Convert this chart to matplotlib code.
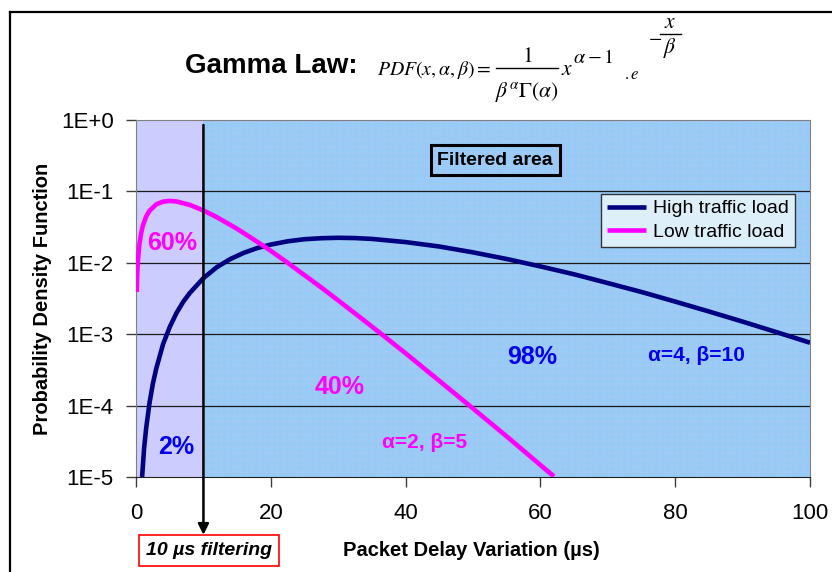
import matplotlib
matplotlib.use("Agg")
import matplotlib.pyplot as plt
from matplotlib.lines import Line2D

# values (log scale)
high_x = [0.9, 1.2, 1.5, 2, 2.5, 3, 4, 5, 6, 7, 8, 10, 12, 14, 16, 18, 20, 22.5, 25, 27.5,
          30, 32.5, 35, 40, 45, 50, 55, 60, 65, 70, 75, 80, 85, 90, 95, 100]
high_y = [1.0e-5, 2.55e-5, 4.8e-5, 1.09e-4, 2.03e-4, 3.3e-4, 7.2e-4, 1.26e-3, 1.98e-3, 2.84e-3,
          3.8e-3, 6.1e-3, 8.7e-3, 1.13e-2, 1.38e-2, 1.61e-2, 1.80e-2, 2.00e-2, 2.14e-2, 2.21e-2,
          2.24e-2, 2.22e-2, 2.16e-2, 1.95e-2, 1.69e-2, 1.40e-2, 1.13e-2, 8.9e-3, 6.9e-3, 5.2e-3,
          3.9e-3, 2.86e-3, 2.08e-3, 1.50e-3, 1.07e-3, 7.6e-4]
low_x = [0.1, 0.15, 0.2, 0.3, 0.5, 0.75, 1, 1.5, 2, 3, 4, 5, 6, 8, 10, 12, 15, 17.5, 20, 22.5,
         25, 27.5, 30, 35, 40, 45, 50, 55, 60, 62]
low_y = [3.9e-3, 5.8e-3, 7.7e-3, 1.13e-2, 1.81e-2, 2.58e-2, 3.28e-2, 4.45e-2, 5.36e-2, 6.59e-2,
         7.19e-2, 7.36e-2, 7.23e-2, 6.46e-2, 5.41e-2, 4.35e-2, 2.99e-2, 2.11e-2, 1.47e-2, 1.0e-2,
         6.7e-3, 4.5e-3, 2.97e-3, 1.28e-3, 5.4e-4, 2.22e-4, 9.1e-5, 3.7e-5, 1.47e-5, 1.02e-5]
series_names = ["High traffic load", "Low traffic load"]
y_ticks = [1, 1e-1, 1e-2, 1e-3, 1e-4, 1e-5]
y_labels = ["1E+0", "1E-1", "1E-2", "1E-3", "1E-4", "1E-5"]
x_ticks = [0, 20, 40, 60, 80, 100]
filter_x = 10

navy = "#000080"
magenta = "#FF00FF"
blue = "#0000EE"

plt.rcParams["font.family"] = ["Liberation Sans", "DejaVu Sans"]
plt.rcParams["mathtext.fontset"] = "stix"
plt.rcParams["hatch.linewidth"] = 0.3

W, H = 832, 572

fig = plt.figure(figsize=(8.32, 5.72), dpi=100)
ax = fig.add_axes([0.1635, 0.1661, 0.8101, 0.6241])

# background areas
ax.axvspan(0, filter_x, facecolor="#CCCCFF", linewidth=0, zorder=0)
ax.axvspan(filter_x, 100, facecolor="#B8C6F6", edgecolor=(0.45, 0.82, 0.96, 0.6),
           hatch="+" * 14, linewidth=0, zorder=0)
for yt in y_ticks[1:-1]:
    ax.axhline(yt, color="#1a1a1a", linewidth=0.9, zorder=1)

ax.plot(high_x, high_y, color=navy, linewidth=3.3, label=series_names[0], zorder=3,
        solid_capstyle="butt", solid_joinstyle="round")
ax.plot(low_x, low_y, color=magenta, linewidth=3.3, label=series_names[1], zorder=3,
        solid_capstyle="butt", solid_joinstyle="round")

ax.set_yscale("log")
ax.set_xlim(0, 100)
ax.set_ylim(1e-5, 1)
ax.set_yticks(y_ticks)
ax.set_yticklabels(y_labels)
ax.minorticks_off()
ax.set_xticks(x_ticks)
ax.tick_params(axis="both", labelsize=16, length=7, width=1, color="#404040")
ax.tick_params(axis="x", pad=12)
ax.tick_params(axis="y", pad=9)
for s in ["left", "top", "right"]:
    ax.spines[s].set_color("#808080")
ax.spines["bottom"].set_color("#202020")

ax.set_xlabel("Packet Delay Variation (\u00b5s)", fontsize=14.5, fontweight="bold")
ax.xaxis.set_label_coords(0.498, -0.178)
ax.set_ylabel("Probability Density Function", fontsize=14.5, fontweight="bold")
ax.yaxis.set_label_coords(-0.125, 0.5)

# filter line with arrow down to the label box
tr = ax.get_xaxis_transform()
ax.annotate("", xy=(filter_x, -0.162), xytext=(filter_x, 0.986), xycoords=tr, textcoords=tr,
            arrowprops=dict(arrowstyle="-|>", color="black", lw=1.8, mutation_scale=16,
                            shrinkA=0, shrinkB=0), annotation_clip=False, zorder=4)
ax.text(10.85, -0.207, "10 \u00b5s filtering", transform=tr, ha="center", va="center",
        fontsize=14, fontweight="bold", fontstyle="italic",
        bbox=dict(boxstyle="square,pad=0.36", facecolor="white", edgecolor="red", lw=1.2))

ax.text(53.3, 0.275, "Filtered area", ha="center", va="center", fontsize=14, fontweight="bold",
        bbox=dict(boxstyle="square,pad=0.35", facecolor="none", edgecolor="black", lw=2.2),
        zorder=5)

ax.text(5.4, 0.019, "60%", color=magenta, fontsize=18, fontweight="bold", ha="center", va="center", zorder=5)
ax.text(5.9, 2.6e-5, "2%", color=blue, fontsize=18, fontweight="bold", ha="center", va="center", zorder=5)
ax.text(30.2, 1.82e-4, "40%", color=magenta, fontsize=18, fontweight="bold", ha="center", va="center", zorder=5)
ax.text(58.8, 4.8e-4, "98%", color=blue, fontsize=18, fontweight="bold", ha="center", va="center", zorder=5)
ax.text(83.2, 5.1e-4, "\u03b1=4, \u03b2=10", color=blue, fontsize=15, fontweight="bold", ha="center", va="center", zorder=5)
ax.text(42.8, 3.0e-5, "\u03b1=2, \u03b2=5", color=magenta, fontsize=15, fontweight="bold", ha="center", va="center", zorder=5)

leg = ax.legend(loc="upper right", bbox_to_anchor=(0.978, 0.793), fontsize=14, frameon=True,
                fancybox=False, handlelength=2.0, borderpad=0.3, labelspacing=0.3,
                handletextpad=0.4, borderaxespad=0)
leg.get_frame().set_facecolor("#DDF0FA")
leg.get_frame().set_edgecolor("#333333")
leg.get_frame().set_linewidth(1)
leg.get_frame().set_alpha(1)
leg.set_zorder(6)


def ftext(px, py, s, **kw):
    # place text by pixel position of the reference picture
    fig.text(px / W, 1 - py / H, s, **kw)


def fbar(x0, x1, py, lw=1.0):
    fig.add_artist(Line2D([x0 / W, x1 / W], [1 - py / H, 1 - py / H], color="black", lw=lw,
                          transform=fig.transFigure))


# title with formula
ftext(185, 66, "Gamma Law:", fontsize=20, fontweight="bold", ha="left", va="center")
ftext(377, 75, r"$PDF(x,\alpha,\beta)=$", fontsize=14.2, ha="left", va="baseline")
ftext(527, 62, r"$1$", fontsize=15.5, ha="center", va="baseline")
fbar(496, 558, 68)
ftext(527, 97, r"$\beta^{\alpha}\Gamma(\alpha)$", fontsize=15.5, ha="center", va="baseline")
ftext(561, 75, r"$x$", fontsize=15.5, ha="left", va="baseline")
ftext(573, 63, r"$\alpha - 1$", fontsize=14.5, ha="left", va="baseline")
ftext(624, 79, r"$.e$", fontsize=12, ha="left", va="baseline")
ftext(648, 38, r"$-$", fontsize=14, ha="left", va="center")
ftext(670, 28, r"$x$", fontsize=15.5, ha="center", va="baseline")
fbar(660, 681, 34)
ftext(670, 53, r"$\beta$", fontsize=15.5, ha="center", va="baseline")

# outer frame
fig.add_artist(Line2D([0.012, 0.012], [0, 0.979], color="black", lw=1.6, transform=fig.transFigure))
fig.add_artist(Line2D([0.012, 1], [0.979, 0.979], color="black", lw=1.6, transform=fig.transFigure))

fig.savefig("out.png", dpi=100)
